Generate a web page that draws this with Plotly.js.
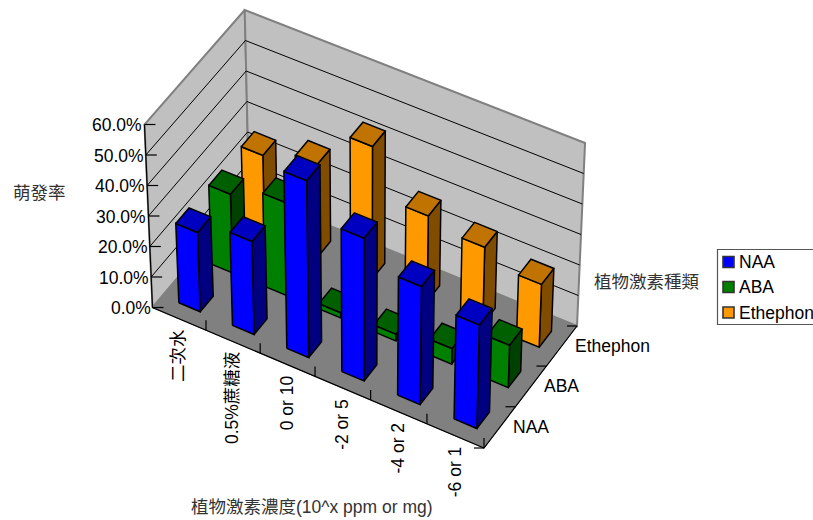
<!DOCTYPE html>
<html>
<head>
<meta charset="utf-8">
<script src="https://cdn.plot.ly/plotly-3.0.1.min.js"></script>
<style>html,body{margin:0;padding:0;background:#fff;overflow:hidden}#chart{width:813px;height:520px}</style>
</head>
<body>
<div id="chart"></div>
<script>
// Germination rate by hormone concentration and hormone type
const categories = ['二次水', '0.5%蔗糖液', '0 or 10', '-2 or 5', '-4 or 2', '-6 or 1'];
const seriesNames = ['NAA', 'ABA', 'Ethephon'];
const naaValues = [26, 30.5, 58, 46.8, 38.7, 34];
const abaValues = [25.8, 30.5, 1.7, 2.2, 5.1, 13.9];
const ethephonValues = [26, 30.2, 43.4, 28, 25.2, 20.6];
const valueTicks = [0, 10, 20, 30, 40, 50, 60];
const valueTickLabels = ['0.0%', '10.0%', '20.0%', '30.0%', '40.0%', '50.0%', '60.0%'];

const seriesValues = [naaValues, abaValues, ethephonValues];
const faceColors = [
  {front: '#0000FF', top: '#0000C0', side: '#000080'},
  {front: '#008000', top: '#006000', side: '#004000'},
  {front: '#FF9900', top: '#C07300', side: '#804D00'}
];

// Projection of the chart box: floor corners, wall height and vanishing point of the verticals
const floorA = [152.5, 307.5], floorB = [484, 448], floorC = [577, 326], floorD = [249, 193];
const wallHeight = 183, vanishX = 365, vanishY = 5150, valueMax = 60;

const sx = floorA[0] - floorB[0] + floorC[0] - floorD[0];
const sy = floorA[1] - floorB[1] + floorC[1] - floorD[1];
const dx1 = floorB[0] - floorC[0], dx2 = floorD[0] - floorC[0];
const dy1 = floorB[1] - floorC[1], dy2 = floorD[1] - floorC[1];
const den = dx1 * dy2 - dx2 * dy1;
const g = (sx * dy2 - dx2 * sy) / den, h = (dx1 * sy - sx * dy1) / den;
const a = floorB[0] - floorA[0] + g * floorB[0], b = floorD[0] - floorA[0] + h * floorD[0];
const d = floorB[1] - floorA[1] + g * floorB[1], e = floorD[1] - floorA[1] + h * floorD[1];

function project(u, v, value) {
  const w = g * u + h * v + 1;
  const x = (a * u + b * v + floorA[0]) / w;
  const y = (d * u + e * v + floorA[1]) / w;
  const rise = wallHeight * value / valueMax;
  return [x + (x - vanishX) * rise / (vanishY - y), y - rise];
}

function polygons(list) {
  const xs = [], ys = [];
  list.forEach(pts => {
    pts.concat([pts[0]]).forEach(p => { xs.push(p[0]); ys.push(p[1]); });
    xs.push(null); ys.push(null);
  });
  return {x: xs, y: ys};
}

function segments(list) {
  const xs = [], ys = [];
  list.forEach(seg => {
    seg.forEach(p => { xs.push(p[0]); ys.push(p[1]); });
    xs.push(null); ys.push(null);
  });
  return {x: xs, y: ys};
}

function filled(list, fill, lineColor, lineWidth, name) {
  const p = polygons(list);
  return {type: 'scatter', mode: 'lines', x: p.x, y: p.y, fill: 'toself', fillcolor: fill,
    line: {color: lineColor, width: lineWidth}, hoverinfo: 'skip', showlegend: false, name: name};
}

function stroked(list, color, width) {
  const p = segments(list);
  return {type: 'scatter', mode: 'lines', x: p.x, y: p.y,
    line: {color: color, width: width}, hoverinfo: 'skip', showlegend: false};
}

const traces = [];

// Walls and floor
traces.push(filled([[project(0,0,0), project(0,0,60), project(0,1,60), project(0,1,0)]], '#C0C0C0', '#808080', 2, 'left wall'));
traces.push(filled([[project(0,1,0), project(0,1,60), project(1,1,60), project(1,1,0)]], '#C0C0C0', '#808080', 2, 'back wall'));
traces.push(filled([[project(0,0,0), project(1,0,0), project(1,1,0), project(0,1,0)]], '#808080', '#808080', 1, 'floor'));

// Gridlines on both walls
const grid = [];
valueTicks.filter(t => t > 0).slice(0, -1).forEach(t => {
  grid.push([project(0,0,t), project(0,1,t), project(1,1,t)]);
});
traces.push(stroked(grid, '#000000', 1));

// Axis lines and tick marks
const axisSegs = [[project(0,0,60), project(0,0,0), project(1,0,0), project(1,1,0)]];
valueTicks.forEach(t => {
  const p = project(0,0,t);
  axisSegs.push([p, [p[0] + 11, p[1]]]);
});
categories.forEach((c, i) => {
  const p = project((i + 1) / categories.length, 0, 0);
  axisSegs.push([p, [p[0], p[1] - 10]]);
});
for (let k = 0; k <= seriesNames.length; k++) {
  const p = project(1, k / seriesNames.length, 0);
  axisSegs.push([p, [p[0] - 10, p[1]]]);
}
traces.push(stroked(axisSegs, '#000000', 1.2));

// Bars, rear series first so nearer ones paint over them
const nCat = categories.length, nSer = seriesNames.length;
for (let s = nSer - 1; s >= 0; s--) {
  const fronts = [], sides = [], tops = [];
  seriesValues[s].forEach((val, i) => {
    const u0 = (i + 0.31) / nCat, u1 = (i + 0.71) / nCat;
    const v0 = (s + 0.3) / nSer, v1 = (s + 0.7) / nSer;
    fronts.push([project(u0,v0,0), project(u1,v0,0), project(u1,v0,val), project(u0,v0,val)]);
    sides.push([project(u1,v0,0), project(u1,v1,0), project(u1,v1,val), project(u1,v0,val)]);
    tops.push([project(u0,v0,val), project(u1,v0,val), project(u1,v1,val), project(u0,v1,val)]);
  });
  traces.push(filled(sides, faceColors[s].side, '#000000', 1.5, seriesNames[s]));
  traces.push(filled(fronts, faceColors[s].front, '#000000', 1.5, seriesNames[s]));
  traces.push(filled(tops, faceColors[s].top, '#000000', 1.5, seriesNames[s]));
}

const fontFamily = '"Liberation Sans", "Noto Sans CJK TC", sans-serif';
const textFont = {family: fontFamily, size: 17.5, color: '#000000'};
const titleFont = {family: fontFamily, size: 17.5, color: '#333333'};

function note(text, x, y, xanchor, yanchor, extra) {
  return Object.assign({text: text, x: x, y: y, xref: 'x', yref: 'y', xanchor: xanchor, yanchor: yanchor,
    showarrow: false, font: textFont, borderpad: 0, borderwidth: 0}, extra || {});
}

const annotations = [];
valueTicks.forEach((t, i) => {
  const p = project(0,0,t);
  annotations.push(note(valueTickLabels[i], p[0] - 2, p[1] + 0.5, 'right', 'middle'));
});
categories.forEach((c, i) => {
  const p = project((i + 0.5) / nCat, 0, 0);
  annotations.push(note(c, p[0] - 1, p[1] + 10.5, 'center', 'top', {textangle: -90}));
});
seriesNames.forEach((c, s) => {
  const p = project(1, (s + 0.5) / nSer, 0);
  annotations.push(note(c, p[0] + 13, p[1], 'left', 'middle'));
});
annotations.push(note('萌發率', 39.5, 193, 'center', 'middle', {font: titleFont}));
annotations.push(note('植物激素種類', 646.5, 282, 'center', 'middle', {font: titleFont}));
annotations.push(note('植物激素濃度(10^x ppm or mg)', 312, 507, 'center', 'middle', {font: titleFont}));

// Legend box
const shapes = [{type: 'rect', xref: 'x', yref: 'y', x0: 717.5, x1: 830, y0: 249.5, y1: 324.5,
  line: {color: '#555555', width: 1.2}, fillcolor: '#FFFFFF', layer: 'above'}];
const legendRows = [262, 287, 312.5];
seriesNames.forEach((name, s) => {
  const yc = legendRows[s];
  shapes.push({type: 'rect', xref: 'x', yref: 'y', x0: 723, x1: 734, y0: yc - 5.5, y1: yc + 5.5,
    line: {color: '#333333', width: 1.6}, fillcolor: faceColors[s].front, layer: 'above'});
  annotations.push(note(name, 738.5, yc, 'left', 'middle'));
});

const layout = {
  width: 813, height: 520,
  margin: {l: 0, r: 0, t: 0, b: 0},
  paper_bgcolor: '#FFFFFF', plot_bgcolor: '#FFFFFF',
  xaxis: {range: [0, 813], visible: false, fixedrange: true},
  yaxis: {range: [520, 0], visible: false, fixedrange: true},
  showlegend: false,
  annotations: annotations,
  shapes: shapes
};

Plotly.newPlot('chart', traces, layout, {displayModeBar: false, staticPlot: true});
</script>
</body>
</html>
